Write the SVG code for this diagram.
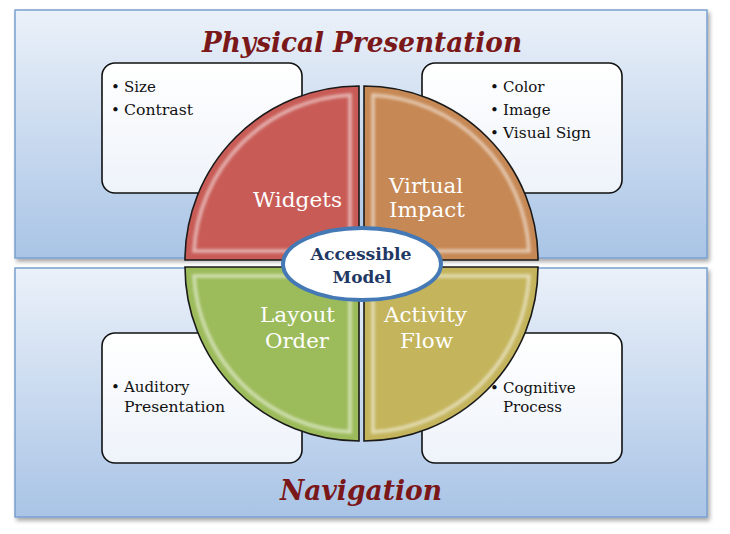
<svg xmlns="http://www.w3.org/2000/svg" width="730" height="534" viewBox="0 0 730 534">
<defs>
<linearGradient id="panelGrad" x1="0" y1="0" x2="0" y2="1">
<stop offset="0" stop-color="#ebf1f9"/>
<stop offset="1" stop-color="#a9c4e6"/>
</linearGradient>
<linearGradient id="boxGrad" x1="0" y1="0" x2="0" y2="1">
<stop offset="0" stop-color="#ffffff"/>
<stop offset="1" stop-color="#eef3fa"/>
</linearGradient>
<filter id="shadow" x="-5%" y="-5%" width="110%" height="115%">
<feGaussianBlur in="SourceAlpha" stdDeviation="2"/>
<feOffset dx="2" dy="3" result="o"/>
<feComponentTransfer><feFuncA type="linear" slope="0.35"/></feComponentTransfer>
<feMerge><feMergeNode/><feMergeNode in="SourceGraphic"/></feMerge>
</filter>
<filter id="glow" x="-10%" y="-10%" width="120%" height="120%">
<feGaussianBlur stdDeviation="1.6"/>
</filter>
<clipPath id="cRed"><path d="M359,260 L185,260 A174,174 0 0 1 359,86 Z"/></clipPath>
<clipPath id="cOrange"><path d="M364,260 L364,86 A174,174 0 0 1 538,260 Z"/></clipPath>
<clipPath id="cGreen"><path d="M359,267 L359,441 A174,174 0 0 1 185,267 Z"/></clipPath>
<clipPath id="cYellow"><path d="M364,267 L538,267 A174,174 0 0 1 364,441 Z"/></clipPath>
</defs>
<style>
.panel{fill:url(#panelGrad);stroke:#7aa0d0;stroke-width:1.5;filter:url(#shadow)}
.box{fill:url(#boxGrad);stroke:#111;stroke-width:1.6}
.quad{stroke:#1a1a1a;stroke-width:1.6}
.bevel{fill:none;stroke:#ffffff;stroke-width:3.5;stroke-opacity:0.55;filter:url(#glow)}
.title{font-family:"DejaVu Serif","Liberation Serif",serif;font-weight:bold;font-style:italic;font-size:27px;fill:#7a1719}
.item{font-family:"DejaVu Serif","Liberation Serif",serif;font-size:15px;fill:#111}
.lbl{font-family:"DejaVu Serif","Liberation Serif",serif;font-size:21px;fill:#ffffff}
.center{font-family:"DejaVu Serif","Liberation Serif",serif;font-weight:bold;font-size:17px;fill:#1f3864}
</style>

<g id="panel-physical">
<rect class="panel" x="15" y="10" width="692" height="248"/>
<text class="title" x="202" y="52" textLength="320" lengthAdjust="spacingAndGlyphs">Physical Presentation</text>
</g>
<g id="panel-navigation">
<rect class="panel" x="15" y="268" width="692" height="249"/>
<text class="title" x="280" y="500" textLength="162" lengthAdjust="spacingAndGlyphs">Navigation</text>
</g>

<g id="box-size">
<rect class="box" x="102" y="63" width="200" height="130" rx="13"/>
<text class="item" x="111" y="92">•</text><text class="item" x="124" y="92">Size</text>
<text class="item" x="111" y="115">•</text><text class="item" x="124" y="115" textLength="69" lengthAdjust="spacingAndGlyphs">Contrast</text>
</g>
<g id="box-color">
<rect class="box" x="422" y="63" width="200" height="130" rx="13"/>
<text class="item" x="490" y="92">•</text><text class="item" x="503" y="92">Color</text>
<text class="item" x="490" y="115">•</text><text class="item" x="503" y="115">Image</text>
<text class="item" x="490" y="138">•</text><text class="item" x="503" y="138" textLength="88" lengthAdjust="spacingAndGlyphs">Visual Sign</text>
</g>
<g id="box-auditory">
<rect class="box" x="102" y="333" width="200" height="130" rx="13"/>
<text class="item" x="111" y="392">•</text><text class="item" x="124" y="392">Auditory</text>
<text class="item" x="124" y="412" textLength="101" lengthAdjust="spacingAndGlyphs">Presentation</text>
</g>
<g id="box-cognitive">
<rect class="box" x="422" y="333" width="200" height="130" rx="13"/>
<text class="item" x="490" y="393">•</text><text class="item" x="503" y="393">Cognitive</text>
<text class="item" x="503" y="412">Process</text>
</g>

<g id="quad-widgets">
<path class="quad" d="M359,260 L185,260 A174,174 0 0 1 359,86 Z" fill="#c85b56"/>
<g clip-path="url(#cRed)"><path class="bevel" d="M350,251 L194,251 A165,165 0 0 1 350,95 Z"/></g>
<text class="lbl" x="253" y="207" textLength="89" lengthAdjust="spacingAndGlyphs">Widgets</text>
</g>
<g id="quad-virtual">
<path class="quad" d="M364,260 L364,86 A174,174 0 0 1 538,260 Z" fill="#c68854"/>
<g clip-path="url(#cOrange)"><path class="bevel" d="M373,251 L373,95 A165,165 0 0 1 529,251 Z"/></g>
<text class="lbl" x="389" y="193" textLength="74" lengthAdjust="spacingAndGlyphs">Virtual</text>
<text class="lbl" x="389" y="217" textLength="76" lengthAdjust="spacingAndGlyphs">Impact</text>
</g>
<g id="quad-layout">
<path class="quad" d="M359,267 L359,441 A174,174 0 0 1 185,267 Z" fill="#9cbb5a"/>
<g clip-path="url(#cGreen)"><path class="bevel" d="M350,276 L350,432 A165,165 0 0 1 194,276 Z"/></g>
<text class="lbl" x="260" y="322" textLength="75" lengthAdjust="spacingAndGlyphs">Layout</text>
<text class="lbl" x="265" y="348" textLength="64" lengthAdjust="spacingAndGlyphs">Order</text>
</g>
<g id="quad-activity">
<path class="quad" d="M364,267 L538,267 A174,174 0 0 1 364,441 Z" fill="#c4b45c"/>
<g clip-path="url(#cYellow)"><path class="bevel" d="M373,276 L529,276 A165,165 0 0 1 373,432 Z"/></g>
<text class="lbl" x="384" y="322" textLength="83" lengthAdjust="spacingAndGlyphs">Activity</text>
<text class="lbl" x="400" y="348" textLength="53" lengthAdjust="spacingAndGlyphs">Flow</text>
</g>

<g id="center-model">
<ellipse cx="362" cy="264" rx="79" ry="36" fill="#ffffff" stroke="#4479b5" stroke-width="4"/>
<text class="center" x="361" y="260" text-anchor="middle" textLength="101" lengthAdjust="spacingAndGlyphs">Accessible</text>
<text class="center" x="362" y="283" text-anchor="middle" textLength="59" lengthAdjust="spacingAndGlyphs">Model</text>
</g>

<g id="connectors"></g>
</svg>
